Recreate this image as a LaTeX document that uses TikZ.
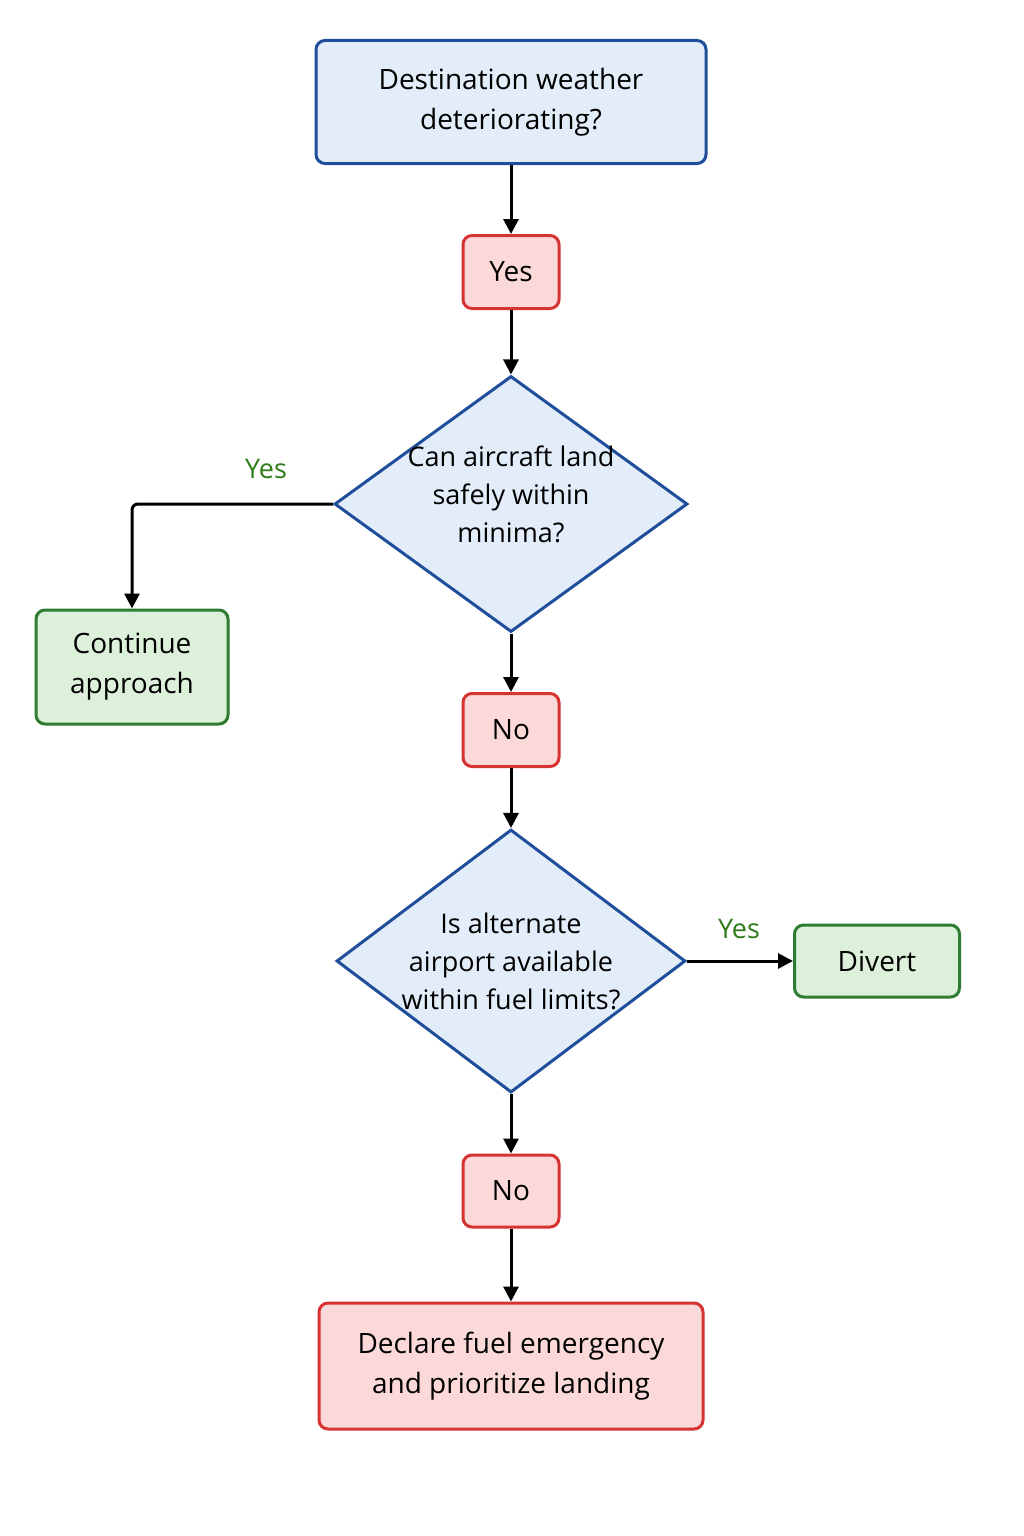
\documentclass[tikz,border=0pt]{standalone}
\usepackage{fontspec}
\setmainfont{Open Sans}
\usetikzlibrary{shapes.geometric,arrows.meta}
\definecolor{bfill}{HTML}{E3ECF9}\definecolor{bdraw}{HTML}{1F4E9A}
\definecolor{rfill}{HTML}{FCD9D9}\definecolor{rdraw}{HTML}{D63333}
\definecolor{gfill}{HTML}{DDF0DA}\definecolor{gdraw}{HTML}{2E7D32}
\definecolor{glab}{HTML}{2E7D1A}
\begin{document}
\begin{tikzpicture}[x=1pt,y=-1pt,
 box/.style={rectangle,rounded corners=9pt,line width=3pt,inner sep=0pt,align=center,font=\fontsize{28}{40}\selectfont},
 blue/.style={box,fill=bfill,draw=bdraw},
 red/.style={box,fill=rfill,draw=rdraw},
 green/.style={box,fill=gfill,draw=gdraw},
 dia/.style={diamond,fill=bfill,draw=bdraw,line width=3pt,inner sep=0pt},
 dtext/.style={align=center,font=\fontsize{27}{38}\selectfont},
 lab/.style={text=glab,font=\fontsize{27}{30}\selectfont},
 arr/.style={line width=3pt,-{Triangle[length=15pt,width=15pt]}}]
\useasboundingbox (0,0) rectangle (1024,1536);
\fill[white] (0,0) rectangle (1024,1536);
\node[blue,minimum width=390pt,minimum height=123pt] (top) at (511,102) {\raisebox{-3pt}{\begin{tabular}{c}Destination weather\\deteriorating?\end{tabular}}};
\node[red,minimum width=96pt,minimum height=73pt] (y1) at (511,272) {Yes};
\node[dia,minimum width=353pt,minimum height=256pt] (d1) at (511,504) {};
\node[dtext] at ([yshift=10pt]d1) {Can aircraft land\\safely within\\minima?};
\node[green,minimum width=192pt,minimum height=114pt] (ca) at (132,667) {Continue\\approach};
\node[red,minimum width=96pt,minimum height=73pt] (n1) at (511,730) {No};
\node[dia,minimum width=349pt,minimum height=263pt] (d2) at (511,961) {};
\node[dtext] at (d2) {Is alternate\\airport available\\within fuel limits?};
\node[green,minimum width=165pt,minimum height=72pt] (dv) at (877,961) {Divert};
\node[red,minimum width=96pt,minimum height=72pt] (n2) at (511,1191) {No};
\node[red,minimum width=384pt,minimum height=126pt] (fin) at (511,1366) {Declare fuel emergency\\and prioritize landing};
\node[lab] (l1) at (266,469) {Yes};
\node[lab] (l2) at (739,929) {Yes};
\draw[arr] (top) -- (y1);
\draw[arr] (y1) -- (d1);
\draw[arr,rounded corners=6pt] (d1.west) -| (ca.north);
\draw[arr] (d1) -- (n1);
\draw[arr] (n1) -- (d2);
\draw[arr] (d2.east) -- (dv.west);
\draw[arr] (d2) -- (n2);
\draw[arr] (n2) -- (fin);
\end{tikzpicture}
\end{document}
